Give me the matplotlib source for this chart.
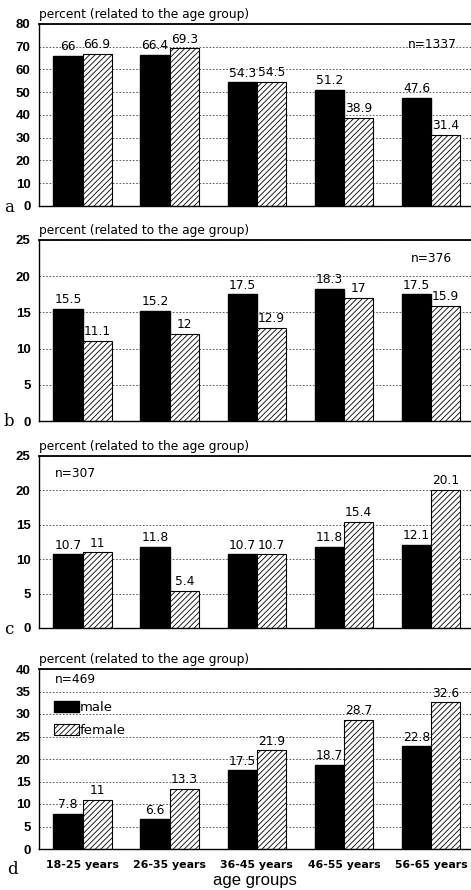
import numpy as np
import matplotlib
matplotlib.use('Agg')
import matplotlib.pyplot as plt

plt.rcParams['font.family'] = ['DejaVu Sans']
plt.rcParams['hatch.linewidth'] = 0.6

groups = ['18-25 years', '26-35 years', '36-45 years', '46-55 years', '56-65 years']

male_a = [66, 66.4, 54.3, 51.2, 47.6]
female_a = [66.9, 69.3, 54.5, 38.9, 31.4]
male_b = [15.5, 15.2, 17.5, 18.3, 17.5]
female_b = [11.1, 12, 12.9, 17, 15.9]
male_c = [10.7, 11.8, 10.7, 11.8, 12.1]
female_c = [11, 5.4, 10.7, 15.4, 20.1]
male_d = [7.8, 6.6, 17.5, 18.7, 22.8]
female_d = [11, 13.3, 21.9, 28.7, 32.6]

W, H = 471, 890
fig = plt.figure(figsize=(W / 100, H / 100), dpi=100)


def px_axes(left, top, right, bottom):
    return fig.add_axes([left / W, 1 - bottom / H, (right - left) / W, (bottom - top) / H])


panels = [
    # letter, male, female, ymax, step, top, bottom, n text, n position
    ('a', male_a, female_a, 80, 10, 24, 206, 'n=1337', (4.02, 71)),
    ('b', male_b, female_b, 25, 5, 240, 421, 'n=376', (4.0, 22.5)),
    ('c', male_c, female_c, 25, 5, 456, 628, 'n=307', (-0.32, 22.5)),
    ('d', male_d, female_d, 40, 5, 669, 849, 'n=469', (-0.32, 37.6)),
]

x = np.arange(len(groups))
w = 0.335
for letter, male, female, ymax, step, top, bottom, ntxt, npos in panels:
    ax = px_axes(39, top, 472, bottom)
    ax.set_xlim(-0.5, 4.47)
    ax.set_ylim(0, ymax)
    ax.set_yticks(np.arange(0, ymax + 1, step))
    ax.yaxis.grid(True, color='#444444', linestyle=(0, (2, 2)), linewidth=0.6)
    ax.set_axisbelow(True)
    ax.bar(x - w / 2, male, w, color='black', edgecolor='black', label='male')
    ax.bar(x + w / 2, female, w, color='white', edgecolor='black', hatch='//////',
           linewidth=0.8, label='female')
    for xi, v in zip(x, male):
        ax.text(xi - w / 2, v + ymax * 0.015, f'{v:g}', ha='center', va='bottom', fontsize=8.8)
    for xi, v in zip(x, female):
        ax.text(xi + w / 2, v + ymax * 0.015, f'{v:g}', ha='center', va='bottom', fontsize=8.8)
    ax.text(npos[0], npos[1], ntxt, ha='left' if npos[0] < 0 else 'center', va='center', fontsize=8.8)
    ax.spines['right'].set_visible(False)
    ax.spines['top'].set_linewidth(1.3)
    ax.spines['left'].set_linewidth(1.0)
    ax.spines['bottom'].set_linewidth(1.0)
    ax.tick_params(axis='y', length=0, pad=6)
    for lab in ax.get_yticklabels():
        lab.set_fontweight('bold')
        lab.set_family('Liberation Sans')
        lab.set_fontsize(9.5)
    ax.text(0, 1.015, 'percent (related to the age group)', transform=ax.transAxes,
            ha='left', va='bottom', fontsize=8.8)
    if letter == 'd':
        ax.set_xticks(x)
        ax.set_xticklabels(groups, fontsize=7.9, fontweight='bold')
        ax.tick_params(axis='x', length=0, pad=8)
        ax.legend(loc='upper left', bbox_to_anchor=(0.008, 0.89), frameon=False, fontsize=9.5,
                  handlelength=1.85, handleheight=0.9, labelspacing=0.75, handletextpad=0.1)
        fig.text(7 / W, 1 - 869 / H, 'd', family='DejaVu Serif', fontsize=12, va='center')
        fig.text(255 / W, 1 - 881 / H, 'age groups', family='Liberation Sans', fontsize=12,
                 ha='center', va='center')
    else:
        ax.set_xticks([])
        fig.text(4 / W, 1 - (bottom + 1) / H, letter, family='DejaVu Serif', fontsize=12, va='center')

fig.savefig('out.png', dpi=100)
